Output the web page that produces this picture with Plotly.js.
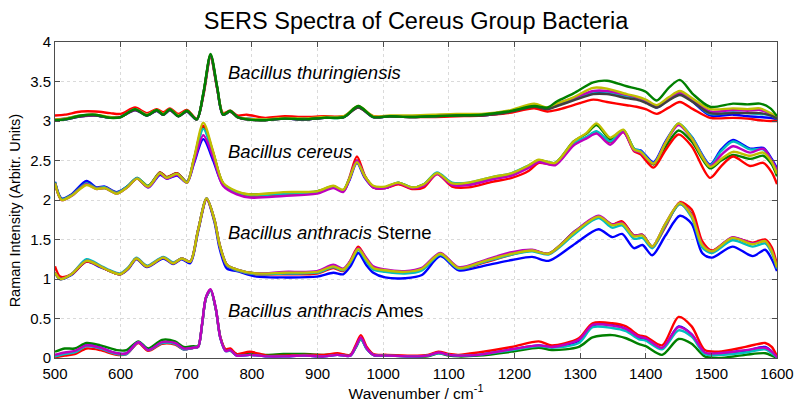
<!DOCTYPE html>
<html>
<head>
<meta charset="utf-8">
<script src="https://cdn.plot.ly/plotly-3.0.1.min.js"></script>
<style>html,body{margin:0;padding:0;background:#fff;}#chart{width:800px;height:408px;}</style>
</head>
<body>
<div id="chart"></div>
<script>
// ---------- Bacillus thuringiensis ----------
const xBt = [500,515,540,562,584,600,622,640,655,665,675,688,701,716,726,737,747,756,767,778,792,820,850,880,910,940,962,985,1010,1040,1076,1112,1150,1190,1230,1250,1265,1290,1320,1341,1371,1386,1400,1417,1435,1452,1472,1498,1533,1555,1574,1590,1600];
const btBlue = [3.01,3.02,3.06,3.07,3.04,3.05,3.14,3.07,3.13,3.08,3.14,3.06,3.12,3.02,3.34,3.83,3.42,3.08,3.12,3.05,3.03,3.02,3.03,3.02,3.04,3.05,3.18,3.05,3.06,3.05,3.06,3.07,3.07,3.11,3.18,3.15,3.2,3.27,3.36,3.36,3.31,3.29,3.25,3.17,3.28,3.37,3.24,3.07,3.08,3.06,3.05,3.04,3.02];
const btRed = [3.07,3.08,3.12,3.12,3.10,3.09,3.17,3.10,3.15,3.11,3.16,3.09,3.14,3.03,3.32,3.81,3.41,3.10,3.13,3.07,3.08,3.04,3.06,3.05,3.06,3.06,3.17,3.06,3.06,3.05,3.05,3.06,3.07,3.10,3.16,3.12,3.14,3.20,3.27,3.24,3.20,3.18,3.15,3.09,3.17,3.24,3.15,3.04,3.04,3.03,3.01,3.00,3.00];
const btCyan = [3.02,3.03,3.07,3.07,3.04,3.05,3.15,3.08,3.13,3.08,3.14,3.07,3.12,3.02,3.35,3.83,3.43,3.08,3.12,3.05,3.03,3.02,3.03,3.03,3.04,3.05,3.18,3.05,3.06,3.06,3.06,3.08,3.08,3.12,3.19,3.16,3.21,3.28,3.37,3.37,3.31,3.29,3.25,3.18,3.28,3.35,3.25,3.09,3.11,3.10,3.09,3.07,3.03];
const btMagenta = [3.02,3.03,3.06,3.07,3.04,3.05,3.14,3.08,3.13,3.08,3.14,3.06,3.12,3.02,3.34,3.83,3.42,3.08,3.12,3.05,3.02,3.01,3.03,3.02,3.04,3.05,3.18,3.05,3.06,3.06,3.07,3.08,3.08,3.12,3.19,3.16,3.22,3.29,3.38,3.38,3.33,3.30,3.26,3.19,3.29,3.36,3.27,3.12,3.14,3.13,3.14,3.09,3.04];
const btYellow = [3.02,3.03,3.07,3.08,3.05,3.05,3.15,3.08,3.14,3.09,3.15,3.07,3.13,3.02,3.35,3.84,3.43,3.09,3.12,3.05,3.03,3.02,3.04,3.03,3.05,3.06,3.19,3.06,3.07,3.07,3.08,3.09,3.09,3.13,3.22,3.17,3.22,3.30,3.42,3.41,3.34,3.31,3.27,3.20,3.30,3.38,3.28,3.15,3.16,3.15,3.16,3.10,3.04];
const btDark = [3.01,3.02,3.06,3.07,3.04,3.05,3.14,3.07,3.13,3.08,3.14,3.06,3.12,3.02,3.34,3.83,3.42,3.08,3.12,3.05,3.02,3.01,3.03,3.02,3.04,3.05,3.17,3.05,3.06,3.05,3.06,3.07,3.07,3.11,3.18,3.15,3.19,3.26,3.34,3.34,3.29,3.27,3.23,3.17,3.26,3.33,3.24,3.10,3.10,3.10,3.10,3.07,3.03];
const btGreen = [3.01,3.02,3.07,3.08,3.04,3.05,3.15,3.07,3.14,3.08,3.15,3.06,3.13,3.02,3.35,3.85,3.44,3.08,3.13,3.05,3.02,3.01,3.03,3.02,3.04,3.05,3.19,3.05,3.06,3.05,3.06,3.07,3.08,3.12,3.19,3.17,3.25,3.35,3.49,3.51,3.44,3.41,3.37,3.26,3.42,3.52,3.34,3.18,3.22,3.21,3.22,3.16,3.06];

// ---------- Bacillus cereus ----------
const xBc = [500,510,525,548,563,576,594,610,625,642,660,670,686,701,712,726,741,756,777,797,848,899,924,939,948,960,972,985,1003,1023,1044,1062,1082,1105,1130,1166,1196,1222,1237,1262,1290,1310,1325,1346,1366,1382,1392,1412,1430,1450,1470,1498,1515,1533,1559,1579,1592,1600];
const bcBlue = [2.23,2.02,2.07,2.24,2.16,2.17,2.10,2.17,2.27,2.16,2.32,2.27,2.31,2.22,2.47,2.77,2.50,2.19,2.09,2.06,2.08,2.10,2.16,2.11,2.24,2.47,2.28,2.16,2.15,2.21,2.15,2.19,2.34,2.21,2.20,2.27,2.33,2.43,2.50,2.46,2.71,2.79,2.86,2.74,2.87,2.64,2.63,2.48,2.74,2.96,2.80,2.45,2.64,2.76,2.65,2.66,2.52,2.40];
const bcGreen = [2.22,2.01,2.06,2.21,2.15,2.15,2.09,2.17,2.28,2.18,2.35,2.29,2.34,2.23,2.52,2.92,2.59,2.21,2.10,2.07,2.09,2.11,2.17,2.12,2.26,2.50,2.30,2.17,2.16,2.22,2.16,2.20,2.34,2.21,2.21,2.28,2.33,2.43,2.50,2.47,2.74,2.84,2.95,2.77,2.88,2.65,2.60,2.45,2.67,2.88,2.74,2.40,2.50,2.57,2.52,2.56,2.45,2.30];
const bcRed = [2.21,2.00,2.06,2.20,2.15,2.16,2.09,2.16,2.27,2.17,2.35,2.29,2.34,2.23,2.53,2.94,2.60,2.21,2.09,2.05,2.07,2.09,2.16,2.11,2.27,2.55,2.31,2.16,2.15,2.20,2.14,2.16,2.33,2.17,2.16,2.23,2.28,2.37,2.47,2.45,2.70,2.79,2.85,2.73,2.86,2.62,2.58,2.41,2.63,2.83,2.68,2.28,2.43,2.55,2.43,2.47,2.35,2.20];
const bcCyan = [2.22,2.01,2.06,2.21,2.15,2.16,2.09,2.17,2.28,2.17,2.34,2.28,2.33,2.23,2.52,2.90,2.58,2.21,2.10,2.06,2.08,2.10,2.17,2.12,2.26,2.49,2.30,2.17,2.16,2.22,2.16,2.20,2.35,2.22,2.22,2.29,2.34,2.44,2.50,2.47,2.72,2.80,2.87,2.74,2.88,2.65,2.62,2.47,2.72,2.97,2.80,2.44,2.62,2.74,2.64,2.64,2.50,2.35];
const bcMagenta = [2.21,2.00,2.05,2.20,2.14,2.15,2.08,2.16,2.27,2.16,2.33,2.27,2.32,2.22,2.49,2.82,2.54,2.18,2.07,2.03,2.05,2.08,2.15,2.10,2.25,2.50,2.29,2.16,2.15,2.21,2.15,2.18,2.33,2.19,2.19,2.26,2.31,2.41,2.48,2.44,2.69,2.78,2.84,2.70,2.86,2.63,2.60,2.46,2.72,2.95,2.78,2.43,2.57,2.68,2.60,2.65,2.50,2.38];
const bcYellow = [2.21,2.00,2.05,2.19,2.14,2.15,2.08,2.16,2.27,2.17,2.34,2.28,2.33,2.22,2.54,2.98,2.61,2.22,2.11,2.07,2.10,2.11,2.18,2.13,2.26,2.48,2.30,2.18,2.17,2.22,2.16,2.20,2.34,2.21,2.22,2.29,2.34,2.44,2.51,2.47,2.74,2.85,2.97,2.79,2.89,2.64,2.61,2.46,2.72,2.97,2.78,2.42,2.52,2.61,2.56,2.60,2.48,2.33];

// ---------- Bacillus anthracis Sterne ----------
const xBs = [500,508,525,548,569,581,599,612,624,640,665,680,693,706,718,731,743,751,762,777,807,848,899,924,939,950,962,974,985,1003,1033,1059,1087,1115,1155,1196,1227,1252,1293,1328,1349,1364,1382,1395,1410,1430,1452,1470,1486,1501,1532,1563,1582,1592,1600];
const bsBlue = [1.08,1.00,1.05,1.22,1.15,1.11,1.06,1.13,1.25,1.15,1.26,1.19,1.25,1.20,1.60,2.01,1.72,1.38,1.13,1.10,1.03,1.02,1.03,1.08,1.06,1.16,1.33,1.18,1.08,1.02,1.01,1.05,1.29,1.11,1.17,1.24,1.28,1.23,1.45,1.63,1.53,1.57,1.39,1.43,1.30,1.55,1.80,1.70,1.33,1.27,1.41,1.29,1.37,1.25,1.10];
const bsGreen = [1.08,1.00,1.06,1.23,1.16,1.11,1.06,1.14,1.26,1.16,1.27,1.20,1.26,1.22,1.62,2.02,1.75,1.43,1.18,1.12,1.07,1.08,1.09,1.16,1.12,1.22,1.37,1.24,1.13,1.10,1.08,1.12,1.32,1.14,1.22,1.32,1.36,1.32,1.61,1.79,1.69,1.72,1.55,1.56,1.41,1.69,1.95,1.82,1.44,1.35,1.52,1.45,1.48,1.36,1.15];
const bsRed = [1.16,1.03,1.06,1.22,1.16,1.11,1.06,1.14,1.26,1.16,1.27,1.20,1.26,1.22,1.62,2.01,1.74,1.42,1.17,1.11,1.06,1.06,1.07,1.14,1.10,1.23,1.41,1.26,1.13,1.10,1.08,1.12,1.32,1.13,1.21,1.31,1.36,1.32,1.60,1.78,1.69,1.73,1.55,1.56,1.40,1.66,1.97,1.88,1.48,1.36,1.52,1.46,1.50,1.40,1.18];
const bsCyan = [1.08,1.00,1.06,1.25,1.17,1.12,1.07,1.15,1.27,1.17,1.28,1.21,1.26,1.22,1.62,2.02,1.74,1.42,1.17,1.11,1.06,1.07,1.08,1.15,1.11,1.21,1.37,1.23,1.12,1.09,1.07,1.11,1.31,1.13,1.22,1.31,1.35,1.31,1.58,1.77,1.65,1.68,1.51,1.52,1.39,1.68,1.95,1.78,1.40,1.33,1.49,1.41,1.45,1.33,1.13];
const bsMagenta = [1.08,1.00,1.06,1.23,1.16,1.11,1.06,1.14,1.26,1.16,1.27,1.20,1.26,1.22,1.62,2.02,1.75,1.43,1.18,1.12,1.07,1.09,1.10,1.18,1.13,1.23,1.39,1.27,1.16,1.12,1.10,1.14,1.33,1.15,1.24,1.34,1.37,1.32,1.61,1.80,1.69,1.71,1.55,1.56,1.41,1.70,1.96,1.81,1.44,1.35,1.53,1.45,1.48,1.36,1.15];
const bsYellow = [1.08,1.00,1.06,1.23,1.16,1.11,1.06,1.14,1.26,1.16,1.27,1.20,1.26,1.22,1.62,2.02,1.75,1.43,1.18,1.12,1.07,1.08,1.09,1.16,1.12,1.22,1.38,1.25,1.14,1.11,1.09,1.13,1.32,1.14,1.23,1.32,1.36,1.32,1.60,1.79,1.68,1.70,1.54,1.55,1.41,1.70,1.96,1.80,1.43,1.35,1.52,1.44,1.48,1.35,1.15];

// ---------- Bacillus anthracis Ames ----------
const xBa = [500,515,530,548,569,594,609,627,642,663,683,696,711,718,724,730,737,745,752,760,767,777,797,823,848,880,910,930,950,958,966,975,985,1006,1044,1068,1084,1100,1115,1145,1196,1237,1257,1298,1319,1349,1370,1389,1400,1425,1450,1470,1490,1511,1552,1582,1592,1600];
const baGreen = [0.08,0.12,0.12,0.19,0.16,0.10,0.10,0.21,0.12,0.23,0.21,0.14,0.15,0.15,0.42,0.76,0.86,0.62,0.26,0.10,0.10,0.05,0.05,0.04,0.05,0.05,0.04,0.05,0.04,0.13,0.24,0.12,0.04,0.03,0.02,0.02,0.06,0.03,0.02,0.03,0.08,0.13,0.10,0.14,0.26,0.29,0.25,0.18,0.15,0.04,0.24,0.18,0.02,0.00,0.04,0.06,0.03,0.00];
const baBlue = [0.03,0.06,0.08,0.16,0.13,0.06,0.06,0.20,0.10,0.19,0.18,0.11,0.13,0.14,0.42,0.76,0.86,0.62,0.25,0.09,0.10,0.03,0.04,0.02,0.02,0.03,0.02,0.04,0.03,0.14,0.25,0.12,0.04,0.03,0.02,0.03,0.07,0.04,0.03,0.04,0.11,0.16,0.14,0.22,0.41,0.42,0.37,0.26,0.24,0.12,0.40,0.30,0.06,0.05,0.09,0.14,0.08,0.01];
const baRed = [0.01,0.03,0.05,0.12,0.10,0.04,0.05,0.19,0.09,0.18,0.17,0.11,0.13,0.14,0.42,0.76,0.86,0.62,0.26,0.11,0.12,0.05,0.08,0.03,0.03,0.04,0.04,0.06,0.04,0.16,0.29,0.14,0.05,0.04,0.03,0.04,0.08,0.05,0.04,0.07,0.14,0.21,0.16,0.25,0.44,0.44,0.40,0.29,0.27,0.16,0.52,0.40,0.10,0.08,0.14,0.19,0.14,0.02];
const baCyan = [0.02,0.05,0.07,0.15,0.12,0.05,0.05,0.20,0.10,0.19,0.18,0.11,0.13,0.14,0.42,0.76,0.86,0.62,0.25,0.09,0.09,0.03,0.04,0.02,0.02,0.03,0.02,0.04,0.03,0.13,0.24,0.11,0.04,0.03,0.02,0.03,0.06,0.04,0.03,0.04,0.10,0.15,0.13,0.19,0.39,0.38,0.34,0.24,0.22,0.11,0.35,0.27,0.05,0.04,0.07,0.11,0.06,0.01];
const baMagenta = [0.04,0.07,0.09,0.16,0.13,0.06,0.06,0.20,0.10,0.20,0.19,0.12,0.13,0.14,0.43,0.77,0.87,0.63,0.25,0.09,0.10,0.03,0.04,0.02,0.02,0.03,0.02,0.04,0.03,0.14,0.26,0.12,0.04,0.03,0.02,0.03,0.07,0.04,0.03,0.04,0.11,0.16,0.14,0.23,0.42,0.41,0.37,0.27,0.25,0.13,0.39,0.30,0.07,0.06,0.10,0.13,0.08,0.01];

const xTicks = [500,600,700,800,900,1000,1100,1200,1300,1400,1500,1600];
const labels = ["<i>Bacillus thuringiensis</i>","<i>Bacillus cereus</i>","<i>Bacillus anthracis</i> Sterne","<i>Bacillus anthracis</i> Ames"];
const labelY = [3.61, 2.61, 1.59, 0.6];

const C = {b:'#0000ff', r:'#ff0000', g:'#008000', c:'#00bfbf', m:'#bf00bf', y:'#bfbf00', k:'#404040'};
function tr(x, y, col){
  return {x:x, y:y, type:'scatter', mode:'lines', line:{color:col, width:2.4, shape:'spline', smoothing:0.8}, hoverinfo:'skip', showlegend:false};
}
const data = [
  tr(xBt, btBlue, C.b), tr(xBt, btRed, C.r), tr(xBt, btCyan, C.c), tr(xBt, btMagenta, C.m),
  tr(xBt, btYellow, C.y), tr(xBt, btDark, C.k), tr(xBt, btGreen, C.g),
  tr(xBc, bcBlue, C.b), tr(xBc, bcGreen, C.g), tr(xBc, bcRed, C.r), tr(xBc, bcCyan, C.c), tr(xBc, bcMagenta, C.m), tr(xBc, bcYellow, C.y),
  tr(xBs, bsBlue, C.b), tr(xBs, bsGreen, C.g), tr(xBs, bsRed, C.r), tr(xBs, bsCyan, C.c), tr(xBs, bsMagenta, C.m), tr(xBs, bsYellow, C.y),
  tr(xBa, baGreen, C.g), tr(xBa, baBlue, C.b), tr(xBa, baRed, C.r), tr(xBa, baCyan, C.c), tr(xBa, baMagenta, C.m)
];

const FONT = 'Arial, "Liberation Sans", Helvetica, sans-serif';
const axisCommon = {
  showline:true, linecolor:'#4d4d4d', linewidth:1, mirror:'ticks', ticks:'inside', ticklen:5, tickcolor:'#4d4d4d',
  showgrid:true, gridcolor:'#dadada', griddash:'dot', gridwidth:1, zeroline:false,
  tickfont:{family:FONT, size:15, color:'#000'}
};
const annots = labels.map((t,i)=>({x:760, y:labelY[i], xref:'x', yref:'y', text:t, showarrow:false, xanchor:'left', yanchor:'middle', font:{family:FONT, size:18.5, color:'#000'}}));
annots.push({x:-0.055, y:0.465, xref:'paper', yref:'paper', xanchor:'center', yanchor:'middle', textangle:-90, showarrow:false,
  text:'Raman Intensity (Arbitr. Units)', font:{family:FONT, size:14.5, color:'#000'}});
const layout = {
  width:800, height:408,
  margin:{l:55, r:23, t:42, b:50},
  paper_bgcolor:'#fff', plot_bgcolor:'#fff',
  font:{family:FONT, color:'#000'},
  title:{text:'SERS Spectra of Cereus Group Bacteria', font:{family:FONT, size:23.5, color:'#000'}, x:0.52, xanchor:'center', y:0.95, yanchor:'middle', yref:'container'},
  xaxis:Object.assign({}, axisCommon, {range:[500,1600], tickvals:xTicks, ticktext:xTicks.map(String), ticklabelstandoff:2,
    title:{text:'Wavenumber / cm<sup>-1</sup>', font:{family:FONT, size:15.5}, standoff:4}}),
  yaxis:Object.assign({}, axisCommon, {range:[0,4], dtick:0.5, tick0:0}),
  annotations: annots
};
Plotly.newPlot('chart', data, layout, {displayModeBar:false, staticPlot:true});
</script>
</body>
</html>
